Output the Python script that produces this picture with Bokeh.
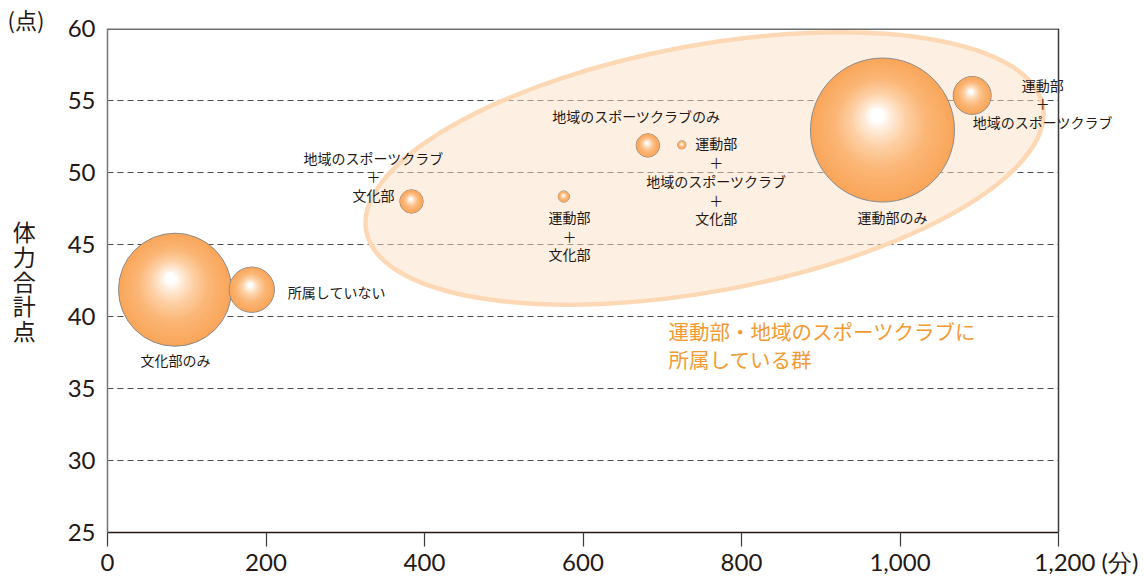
import numpy as np
from bokeh.plotting import figure
from bokeh.models import (Range1d, FixedTicker, NumeralTickFormatter, ColumnDataSource,
                          Span, Title)
from bokeh.core.properties import value
from bokeh.embed import file_html
from bokeh.resources import INLINE

# ---- data -------------------------------------------------------------
groups = [
    "文化部のみ",
    "所属していない",
    "地域のスポーツクラブ\n＋\n文化部",
    "運動部\n＋\n文化部",
    "地域のスポーツクラブのみ",
    "運動部\n＋\n地域のスポーツクラブ\n＋\n文化部",
    "運動部のみ",
    "運動部\n＋\n地域のスポーツクラブ",
]
minutes = [85.2, 182.1, 383.6, 575.8, 681.8, 724.7, 977.9, 1091.1]   # weekly exercise time (min)
scores = [41.86, 41.86, 47.99, 48.33, 51.88, 51.92, 52.95, 55.35]    # fitness total score
share = [33.6, 5.4, 1.44, 0.33, 1.44, 0.17, 54.5, 3.8]                # share of pupils (%)

x_ticks = [0, 200, 400, 600, 800, 1000, 1200]
y_ticks = [25, 30, 35, 40, 45, 50, 55, 60]
grid_ticks = [30, 35, 40, 45, 50, 55]

group_note = "運動部・地域のスポーツクラブに\n所属している群"
y_title = "体\n力\n合\n計\n点"
y_unit = "(点)"
x_unit = "(分)"

# ---- layout / style ---------------------------------------------------
X0, X1, Y0, Y1 = 0, 1200, 25, 60
AXIS_W, FRAME_H = 951, 504          # pixel length of the 0-1200 axis and of the 25-60 axis
MARGIN_L, MARGIN_R, MARGIN_T, MARGIN_B = 107, 86, 28, 48
PX_X = AXIS_W / (X1 - X0)
PX_Y = FRAME_H / (Y1 - Y0)
X_VIEW = X1 + MARGIN_R / PX_X       # room on the right for labels past the last tick

R_SCALE = 9.75            # px of radius per sqrt(%)
FOCUS = (-0.08, 0.22)     # highlight position relative to radius
N_LAYERS = 40

INK = "#231815"
FRAME_GRAY = "#6e6e6e"
JP = "Noto Sans CJK JP"
NUM = "Lato"

# label offsets (px, y downwards) and alignment for each bubble
lab_dx = [0.5, 36, -38, 5.7, -11.5, 34.5, 10, 70.5]
lab_dy = [70, 2, -25, 39, -29, 36, 86.5, 8]
lab_align = ["center", "left", "center", "center", "center", "center", "center", "center"]

p = figure(
    frame_width=AXIS_W + MARGIN_R, frame_height=FRAME_H,
    x_range=Range1d(X0, X_VIEW), y_range=Range1d(Y0, Y1),
    output_backend="svg", toolbar_location=None,
    min_border_left=MARGIN_L, min_border_right=0, min_border_top=MARGIN_T,
    min_border_bottom=MARGIN_B,
    background_fill_color="white", border_fill_color="white",
)
p.outline_line_color = None

# axes
p.xaxis.bounds = (X0, X1)
p.xaxis.ticker = FixedTicker(ticks=x_ticks)
p.xaxis.formatter = NumeralTickFormatter(format="0,0")
p.xaxis.major_label_overrides = {X1: "\u2007\u2007\u2007\u20071,200 " + x_unit}
p.xaxis.major_tick_out = 14
p.xaxis.major_tick_in = 0
p.xaxis.minor_tick_line_color = None
p.xaxis.major_tick_line_color = "#3a3a3a"
p.xaxis.major_tick_line_width = 1.2
p.xaxis.axis_line_color = INK
p.xaxis.axis_line_width = 1.6
p.xaxis.major_label_standoff = 0
p.xaxis.major_label_text_font = NUM
p.xaxis.major_label_text_font_size = "24px"
p.xaxis.major_label_text_color = INK

p.yaxis.ticker = FixedTicker(ticks=y_ticks)
p.yaxis.major_tick_out = 0
p.yaxis.major_tick_in = 0
p.yaxis.minor_tick_line_color = None
p.yaxis.axis_line_color = "#7a7a7a"
p.yaxis.axis_line_width = 1.6
p.yaxis.major_label_standoff = 12
p.yaxis.major_label_text_font = NUM
p.yaxis.major_label_text_font_size = "24px"
p.yaxis.major_label_text_color = INK
p.yaxis.axis_label = y_title
p.yaxis.axis_label_orientation = "horizontal"
p.yaxis.axis_label_standoff = 29
p.yaxis.axis_label_text_font = JP
p.yaxis.axis_label_text_font_size = "23px"
p.yaxis.axis_label_text_font_style = "normal"
p.yaxis.axis_label_text_color = INK
p.yaxis.axis_label_text_line_height = 0.73

p.add_layout(Title(text=y_unit, align="left", offset=-100, standoff=-12,
                   text_font=JP, text_font_size="22px", text_font_style="normal",
                   text_line_height=0.72, text_color=INK), "above")

p.xgrid.visible = False
p.ygrid.visible = False

# dashed reference lines, only across the 0-1200 span
p.segment(x0=X0, y0=grid_ticks, x1=X1, y1=grid_ticks,
          line_color="#4d4d4d", line_dash="6 4", line_width=1)

# frame edges at the top and at 1,200 min
p.line(x=[X0, X1], y=[Y1, Y1], line_color=FRAME_GRAY, line_width=3)
p.add_layout(Span(location=X1, dimension="height", line_color="#3a3a3a", line_width=1.5))

# group ellipse (translucent, over the dashed lines)
p.ellipse(x=753.3, y=50.28, width=688, height=246, angle=np.radians(10.5),
          width_units="screen", height_units="screen",
          fill_color="#FBE2C8", fill_alpha=0.5,
          line_color="#FDD8B5", line_width=4.5)

# ---- shaded bubbles ---------------------------------------------------
stops = [(0.0, (249, 166, 90)), (0.35, (251, 182, 118)), (0.6, (253, 207, 163)),
         (0.8, (255, 235, 217)), (0.9, (255, 255, 255)), (1.0, (255, 255, 255))]

def ramp(s):
    for (s0, c0), (s1, c1) in zip(stops[:-1], stops[1:]):
        if s0 <= s <= s1:
            t = (s - s0) / (s1 - s0) if s1 > s0 else 0
            c = [round(a + (b - a) * t) for a, b in zip(c0, c1)]
            return "#%02x%02x%02x" % tuple(c)
    return "#ffffff"

xs, ys, sizes, fills, lalpha = [], [], [], [], []
levels = np.linspace(0, 1, N_LAYERS, endpoint=False)
for mx, sc, sh in zip(minutes, scores, share):
    r = R_SCALE * np.sqrt(sh)
    for s in levels:
        xs.append(mx + s * FOCUS[0] * r / PX_X)
        ys.append(sc + s * FOCUS[1] * r / PX_Y)
        sizes.append(2 * r * (1 - s))
        fills.append(ramp(s))
        lalpha.append(1.0 if s == 0 else 0.0)

bubbles = ColumnDataSource(dict(x=xs, y=ys, size=sizes, fill=fills, la=lalpha))
p.scatter("x", "y", size="size", source=bubbles, marker="circle",
          fill_color="fill", line_color="#8a8a8a", line_alpha="la", line_width=1)

# ---- bubble labels ----------------------------------------------------
labels = ColumnDataSource(dict(x=minutes, y=scores, text=groups,
                               dx=lab_dx, dy=lab_dy, align=lab_align))
p.text("x", "y", text="text", source=labels, x_offset="dx", y_offset="dy",
       text_align="align", text_baseline="middle", text_line_height=0.94,
       text_font=value(JP), text_font_size="14px", text_color=INK)

p.text(x=[707.9], y=[38.0], text=[group_note], text_align="left", text_baseline="middle",
       text_line_height=0.93, text_font=value(JP), text_font_size="20.5px",
       text_color="#F39A33")

open("out.html", "w").write(file_html(p, INLINE))
